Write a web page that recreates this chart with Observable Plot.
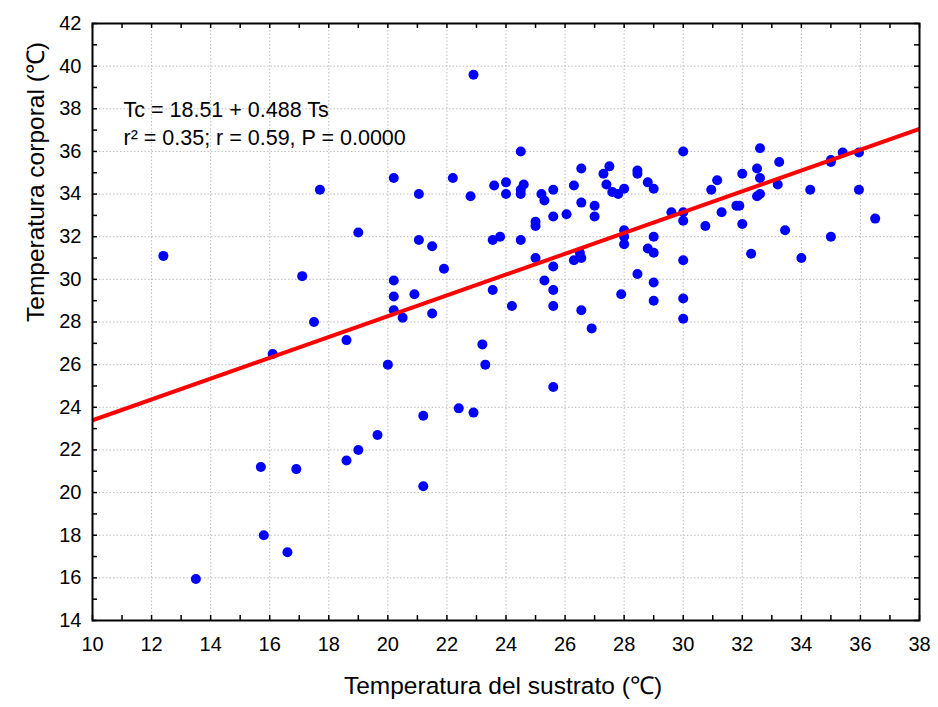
<!DOCTYPE html>
<html>
<head>
<meta charset="utf-8">
<script src="https://cdn.jsdelivr.net/npm/d3@7"></script>
<script src="https://cdn.jsdelivr.net/npm/@observablehq/plot@0.6"></script>
<style>
  html, body { margin: 0; padding: 0; background: #ffffff; }
  #chart svg {
    display: block;
    background: linear-gradient(#fdf8ec, #fdf8ec) 6px 5px / calc(100% - 6px) calc(100% - 5px) no-repeat, #ffffff;
  }
</style>
</head>
<body>
<div id="chart"></div>
<script>
// Temperatura del sustrato (Ts, °C)
const sustrato = [
  12.4, 13.5, 15.7, 15.8, 16.1, 16.6, 16.9, 17.1, 17.5, 17.7,
  18.6, 18.6, 19.0, 19.0, 19.65, 20.0, 20.2, 20.2, 20.2, 20.2,
  20.5, 20.9, 21.05, 21.05, 21.2, 21.2, 21.5, 21.5, 21.9, 22.2,
  22.4, 22.8, 22.9, 22.9, 23.2, 23.3, 23.55, 23.55, 23.6, 23.8,
  24.0, 24.0, 24.2, 24.5, 24.5, 24.5, 24.6, 24.5, 25.0, 25.0,
  25.0, 25.2, 25.3, 25.3, 25.6, 25.6, 25.6, 25.6, 25.6, 25.6,
  26.05, 26.3, 26.3, 26.5, 26.55, 26.55, 26.55, 26.55, 26.9, 27.0,
  27.0, 27.3, 27.5, 27.4, 27.6, 27.8, 28.0, 28.0, 28.0, 28.0,
  27.9, 28.45, 28.45, 28.45, 28.8, 28.8, 29.0, 29.0, 29.0, 29.0,
  29.0, 29.6, 30.0, 30.0, 30.0, 30.0, 30.0, 30.0, 30.75, 30.95,
  31.15, 31.3, 31.8, 31.9, 32.0, 32.0, 32.3, 32.5, 32.5, 32.6,
  32.6, 32.6, 33.2, 33.25, 33.45, 34.0, 34.3, 35.0, 35.0, 35.0,
  35.4, 35.95, 35.95, 36.5
];
// Temperatura corporal (Tc, °C)
const corporal = [
  31.1, 15.95, 21.2, 18.0, 26.5, 17.2, 21.1, 30.15, 28.0, 34.2,
  27.15, 21.5, 32.2, 22.0, 22.7, 26.0, 34.75, 29.95, 29.2, 28.55,
  28.2, 29.3, 34.0, 31.85, 23.6, 20.3, 31.55, 28.4, 30.5, 34.75,
  23.95, 33.9, 39.6, 23.75, 26.95, 26.0, 31.85, 29.5, 34.4, 32.0,
  34.55, 34.0, 28.75, 36.0, 34.0, 34.2, 34.45, 31.85, 32.7, 32.5,
  31.0, 34.0, 33.7, 29.95, 34.2, 32.95, 30.6, 29.5, 28.75, 24.95,
  33.05, 34.4, 30.9, 31.25, 31.0, 35.2, 33.6, 28.55, 27.7, 33.45,
  32.95, 34.95, 35.3, 34.45, 34.1, 34.0, 34.25, 32.3, 32.0, 31.65,
  29.3, 35.1, 34.95, 30.25, 34.55, 31.45, 34.25, 32.0, 31.25, 29.85,
  29.0, 33.15, 33.15, 32.75, 36.0, 30.9, 29.1, 28.15, 32.5, 34.2,
  34.65, 33.15, 33.45, 33.45, 34.95, 32.6, 31.2, 35.2, 33.9, 36.15,
  34.75, 34.0, 34.45, 35.5, 32.3, 31.0, 34.2, 35.6, 35.5, 32.0,
  35.95, 35.95, 34.2, 32.85
];
// Regression: Tc = 18.51 + 0.488 Ts
const intercept = 18.51;
const slope = 0.488;
const annotation = ["Tc = 18.51 + 0.488 Ts", "r² = 0.35; r = 0.59, P = 0.0000"];
const xDomain = [10, 38];
const yDomain = [14, 42];
const xTicks = d3.range(10, 39, 2);
const yTicks = d3.range(14, 43, 2);
const xMinor = d3.range(10, 39, 1);
const yMinor = d3.range(14, 43, 1);
const xTitle = "Temperatura del sustrato (℃)";
const yTitle = "Temperatura corporal (℃)";

const points = sustrato.map((x, i) => ({x, y: corporal[i]}));
const fitLine = xDomain.map(x => ({x, y: intercept + slope * x}));

const W = 938, H = 707;
const mL = 92, mR = 19, mT = 23, mB = 87;
const fw = W - mL - mR, fh = H - mT - mB;
const tick = 5;
const font = "'Liberation Sans', Arial, Helvetica, sans-serif";

const chart = Plot.plot({
  width: W,
  height: H,
  marginLeft: mL,
  marginRight: mR,
  marginTop: mT,
  marginBottom: mB,
  style: {fontFamily: font, background: "transparent", color: "#000"},
  x: {domain: xDomain, ticks: xTicks},
  y: {domain: yDomain, ticks: yTicks},
  marks: [
    Plot.frame({fill: "#ffffff", stroke: "none"}),
    Plot.gridX(xTicks.slice(1, -1), {stroke: "#bdbdbd", strokeOpacity: 1, strokeWidth: 1, strokeDasharray: "1.5,2"}),
    Plot.gridY(yTicks.slice(1, -1), {stroke: "#bdbdbd", strokeOpacity: 1, strokeWidth: 1, strokeDasharray: "1.5,2"}),
    // inward ticks on all four sides
    Plot.tickX(xMinor, {x: d => d, insetTop: fh - tick, stroke: "#000", strokeWidth: 1.5}),
    Plot.tickX(xMinor, {x: d => d, insetBottom: fh - tick, stroke: "#000", strokeWidth: 1.5}),
    Plot.tickY(yMinor, {y: d => d, insetRight: fw - tick, stroke: "#000", strokeWidth: 1.5}),
    Plot.tickY(yMinor, {y: d => d, insetLeft: fw - tick, stroke: "#000", strokeWidth: 1.5}),
    Plot.axisX({ticks: xTicks, tickSize: 0, tickPadding: 16, fontSize: 20, label: null, tickFormat: d => String(d)}),
    Plot.axisY({ticks: yTicks, tickSize: 0, tickPadding: 11, fontSize: 20, label: null, tickFormat: d => String(d)}),
    Plot.dot(points, {x: "x", y: "y", r: 5, fill: "#0000ff", stroke: "none"}),
    Plot.line(fitLine, {x: "x", y: "y", stroke: "#ff0000", strokeWidth: 4, clip: true}),
    Plot.frame({stroke: "#000", strokeWidth: 2}),
    Plot.text([annotation[0]], {frameAnchor: "top-left", dx: 31, dy: 87, textAnchor: "start", lineAnchor: "middle", fontSize: 21.5, fill: "#000"}),
    Plot.text([annotation[1]], {frameAnchor: "top-left", dx: 31, dy: 114.5, textAnchor: "start", lineAnchor: "middle", fontSize: 21.5, fill: "#000"}),
    Plot.text([xTitle], {frameAnchor: "bottom", dx: -3, dy: 66, lineAnchor: "middle", fontSize: 24.5, fill: "#000"}),
    Plot.text([yTitle], {frameAnchor: "left", dx: -56, rotate: -90, lineAnchor: "middle", fontSize: 24.5, fill: "#000"})
  ]
});
document.getElementById("chart").appendChild(chart);
</script>
</body>
</html>
